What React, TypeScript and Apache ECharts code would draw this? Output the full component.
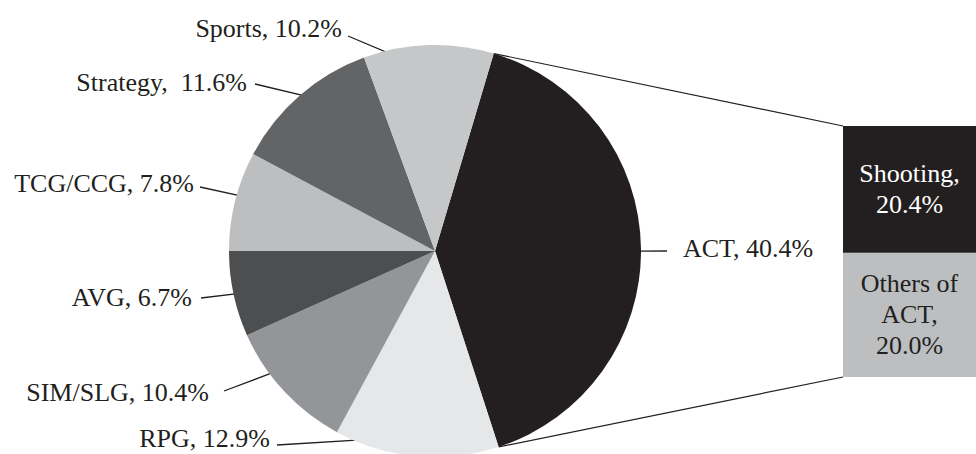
import { useEffect, useRef } from "react";
import * as echarts from "echarts";

// Game genre shares (percent), clockwise from the ACT slice
const categories = ["ACT", "RPG", "SIM/SLG", "AVG", "TCG/CCG", "Strategy", "Sports"];
const shares = [40.4, 12.9, 10.4, 6.7, 7.8, 11.6, 10.2];
const labelSeparators = [", ", ", ", ", ", ", ", ", ", ",  ", ", "];

// Breakdown of the ACT slice, bottom segment first
const actParts = ["Others of\nACT", "Shooting"];
const actShares = [20.0, 20.4];

// Styling and layout
const sliceColors = ["#231f20", "#e6e7e8", "#939598", "#4d4e50", "#bcbec0", "#636466", "#c6c7c9"];
const partColors = ["#bcbec0", "#231f20"];
const partTextColors = ["#231f20", "#ffffff"];
const INK = "#231f20";
const FONT = '26px "Liberation Serif", "Times New Roman", serif';

const PIE_CENTER: [number, number] = [435, 251];
const PIE_RADIUS = 206;
const PIE_START = 73.44; // echarts degrees (counter-clockwise from 3 o'clock)

const BAR_LEFT = 843;
const BAR_WIDTH = 142;
const BAR_TOP = 126;
const BAR_BOTTOM = 77;

// label text anchor, alignment and leader-line geometry per slice
const labelAnchors: [number, number][] = [[683, 248], [270, 438], [209, 392], [192, 297], [194, 183], [247, 82], [342, 28]];
const labelAligns = ["left", "right", "right", "right", "right", "right", "right"];
const leaderEnds: [number, number][] = [[667, 251], [277, 445], [224, 391], [201, 298], [200, 187], [255, 84], [348, 36]];
const leaderSpots = [0.505, 0.85, 0.66, 0.49, 0.57, 0.56, 0.33]; // position along each slice's arc
const leaderDepth = [1.0, 0.985, 0.985, 0.96, 0.93, 0.95, 0.93]; // fraction of the radius

const total = shares.reduce((a, b) => a + b, 0);
const actTotal = actShares.reduce((a, b) => a + b, 0);

// clockwise angle from 12 o'clock where the pie begins
const startCw = 90 - PIE_START;

function polar(angleCw: number, r: number): [number, number] {
  const rad = (angleCw * Math.PI) / 180;
  return [PIE_CENTER[0] + r * Math.sin(rad), PIE_CENTER[1] - r * Math.cos(rad)];
}

function sliceBounds(i: number): [number, number] {
  const before = shares.slice(0, i).reduce((a, b) => a + b, 0);
  const a0 = startCw + (before / total) * 360;
  const a1 = a0 + (shares[i] / total) * 360;
  return [a0, a1];
}

export default function App() {
  const ref = useRef<HTMLDivElement>(null);

  useEffect(() => {
    document.body.style.margin = "0";
    if (!ref.current) return;
    const chart = echarts.init(ref.current, undefined, { renderer: "svg" });

    chart.setOption({
      animation: false,
      backgroundColor: "#ffffff",
      grid: { left: BAR_LEFT, width: BAR_WIDTH, top: BAR_TOP, bottom: BAR_BOTTOM },
      xAxis: { type: "category", data: ["ACT"], show: false },
      yAxis: { type: "value", min: 0, max: actTotal, show: false },
      series: [
        {
          type: "pie",
          center: PIE_CENTER,
          radius: PIE_RADIUS,
          startAngle: PIE_START,
          clockwise: true,
          silent: true,
          label: { show: false },
          labelLine: { show: false },
          itemStyle: { borderWidth: 0 },
          data: categories.map((name, i) => ({
            name,
            value: shares[i],
            itemStyle: { color: sliceColors[i] },
          })),
        },
        ...actParts.map((name, i) => ({
          type: "bar",
          name,
          stack: "act",
          barCategoryGap: 0,
          silent: true,
          itemStyle: { color: partColors[i] },
          label: {
            show: true,
            position: "inside",
            color: partTextColors[i],
            fontFamily: '"Liberation Serif", "Times New Roman", serif',
            fontSize: 26,
            lineHeight: 31,
            formatter: () => `${name},\n${actShares[i].toFixed(1)}%`,
          },
          data: [actShares[i]],
        })),
      ],
    });

    // genre labels with leader lines
    const graphics: any[] = [];
    categories.forEach((name, i) => {
      const [a0, a1] = sliceBounds(i);
      const inner = polar(a0 + (a1 - a0) * leaderSpots[i], PIE_RADIUS * leaderDepth[i]);
      graphics.push({
        type: "line",
        silent: true,
        shape: { x1: leaderEnds[i][0], y1: leaderEnds[i][1], x2: inner[0], y2: inner[1] },
        style: { stroke: INK, lineWidth: 1.3 },
      });
      graphics.push({
        type: "text",
        silent: true,
        style: {
          text: `${name}${labelSeparators[i]}${shares[i].toFixed(1)}%`,
          x: labelAnchors[i][0],
          y: labelAnchors[i][1],
          align: labelAligns[i],
          verticalAlign: "middle",
          font: FONT,
          fill: INK,
        },
      });
    });

    // connectors from the ACT slice edges to the breakdown bar
    const [actStart, actEnd] = sliceBounds(0);
    const pTop = polar(actStart, PIE_RADIUS);
    const pBottom = polar(actEnd, PIE_RADIUS);
    const barTopY = chart.convertToPixel({ yAxisIndex: 0 }, actTotal) as number;
    const barBottomY = chart.convertToPixel({ yAxisIndex: 0 }, 0) as number;
    graphics.push({
      type: "line",
      silent: true,
      shape: { x1: pTop[0], y1: pTop[1], x2: BAR_LEFT, y2: barTopY },
      style: { stroke: INK, lineWidth: 1.2 },
    });
    graphics.push({
      type: "line",
      silent: true,
      shape: { x1: pBottom[0], y1: pBottom[1], x2: BAR_LEFT, y2: barBottomY },
      style: { stroke: INK, lineWidth: 1.2 },
    });

    chart.setOption({ graphic: graphics });

    return () => chart.dispose();
  }, []);

  return <div ref={ref} style={{ width: 976, height: 454 }} />;
}
